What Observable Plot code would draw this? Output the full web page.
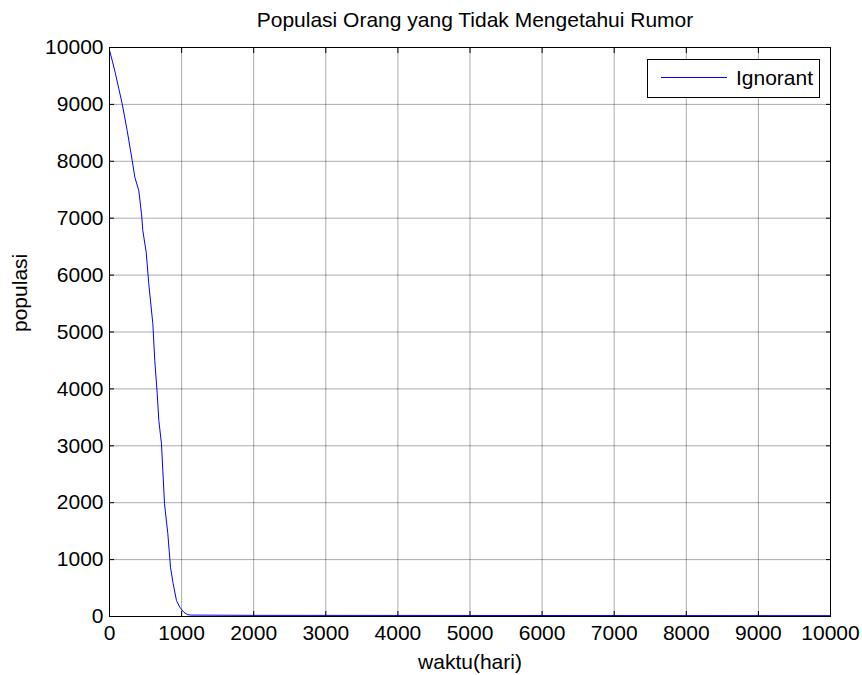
<!DOCTYPE html>
<html>
<head>
<meta charset="utf-8">
<script src="https://cdn.jsdelivr.net/npm/d3@7"></script>
<script src="https://cdn.jsdelivr.net/npm/@observablehq/plot@0.6"></script>
<style>
  html, body { margin: 0; padding: 0; background: #fff; }
  #chart svg { display: block; }
</style>
</head>
<body>
<div id="chart"></div>
<script>
// Data
const waktu = [0, 40, 83, 176, 245, 315, 351, 406, 444, 462, 509, 545, 601, 628, 662, 684, 721, 763, 809, 846, 883, 929, 975, 1030, 1078, 1123, 2000, 5000, 10000];
const ignorant = [9950, 9760, 9538, 9010, 8541, 8014, 7721, 7487, 7077, 6784, 6402, 5847, 5144, 4499, 3914, 3445, 3035, 1981, 1453, 866, 575, 281, 163, 76, 35, 25, 20, 18, 15];
const xTicks = [0, 1000, 2000, 3000, 4000, 5000, 6000, 7000, 8000, 9000, 10000];
const yTicks = [0, 1000, 2000, 3000, 4000, 5000, 6000, 7000, 8000, 9000, 10000];
const titleText = "Populasi Orang yang Tidak Mengetahui Rumor";
const xLabel = "waktu(hari)";
const yLabel = "populasi";
const seriesName = "Ignorant";

const data = waktu.map((t, i) => ({t, v: ignorant[i]}));
const FONT = "'Liberation Sans', Arial, Helvetica, sans-serif";
const FS = 21;

const chart = Plot.plot({
  width: 862,
  height: 675,
  marginLeft: 109,
  marginRight: 32,
  marginTop: 47,
  marginBottom: 59,
  style: {fontFamily: FONT, fontSize: FS + "px", color: "black", background: "white"},
  x: {domain: [0, 10000], label: null},
  y: {domain: [0, 10000], label: null},
  marks: [
    Plot.gridX(xTicks, {stroke: "#000", strokeOpacity: 0.33}),
    Plot.gridY(yTicks, {stroke: "#000", strokeOpacity: 0.33}),
    Plot.line(data, {x: "t", y: "v", stroke: "#0000ff", strokeWidth: 1}),
    Plot.frame({stroke: "black"}),
    // inward ticks on all sides
    Plot.axisX(xTicks, {anchor: "bottom", tickSize: -5, text: null, label: null}),
    Plot.axisX(xTicks, {anchor: "top", tickSize: -5, text: null, label: null}),
    Plot.axisY(yTicks, {anchor: "left", tickSize: -5, text: null, label: null}),
    Plot.axisY(yTicks, {anchor: "right", tickSize: -5, text: null, label: null}),
    // tick labels
    Plot.axisX(xTicks, {anchor: "bottom", tickSize: 0, tickPadding: 9, label: null, tickFormat: d => String(d), fontSize: FS}),
    Plot.axisY(yTicks, {anchor: "left", tickSize: 0, tickPadding: 6, label: null, tickFormat: d => String(d), fontSize: FS}),
    // titles
    Plot.text([titleText], {frameAnchor: "top", lineAnchor: "middle", dx: 5, dy: -27, fontSize: FS}),
    Plot.text([xLabel], {frameAnchor: "bottom", lineAnchor: "middle", dy: 46, fontSize: FS}),
    Plot.text([yLabel], {frameAnchor: "left", lineAnchor: "middle", dx: -89, rotate: -90, fontSize: FS})
  ]
});

// legend box (top-right inside the plot)
const svg = d3.select(chart);
const lg = svg.append("g").attr("class", "legend");
lg.append("rect").attr("x", 647.5).attr("y", 59.5).attr("width", 172).attr("height", 38)
  .attr("fill", "white").attr("stroke", "black");
lg.append("line").attr("x1", 661).attr("x2", 727).attr("y1", 77.5).attr("y2", 77.5)
  .attr("stroke", "#0000ff");
lg.append("text").attr("x", 736).attr("y", 78).attr("dy", "0.35em")
  .attr("text-anchor", "start")
  .attr("font-family", FONT).attr("font-size", FS).attr("fill", "black").text(seriesName);

document.getElementById("chart").appendChild(chart);
</script>
</body>
</html>
